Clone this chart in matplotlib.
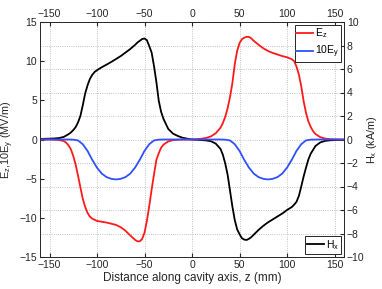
import matplotlib
matplotlib.use("Agg")
import matplotlib.pyplot as plt

plt.rcParams['font.family'] = ['Liberation Sans', 'DejaVu Sans']
plt.rcParams['mathtext.default'] = 'regular'

# ---- data ----
ez_z = [-160, -150, -145, -140, -135, -132.5, -130, -127.5, -125, -122.5, -120,
        -117.5, -115, -112.5, -110, -107.5, -105, -100, -95, -90, -85, -80,
        -75, -70, -65, -60, -57.5, -55, -52.5, -50, -47.5, -45, -42.5, -40,
        -37.5, -35, -32.5, -30, -25, -20, -15, -10, 0, 10, 15, 20, 25, 30,
        32.5, 35, 37.5, 40, 42.5, 45, 47.5, 50, 52.5, 55, 57.5, 60, 62.5, 65,
        70, 75, 80, 85, 90, 95, 100, 105, 107.5, 110, 112.5, 115, 117.5, 120,
        122.5, 125, 127.5, 130, 135, 140, 145, 150, 160]
ez = [0.0, 0.0, -0.02, -0.06, -0.2, -0.4, -0.75, -1.25, -2.1, -3.2, -4.6,
      -6.1, -7.55, -8.6, -9.35, -9.85, -10.1, -10.4, -10.5, -10.6, -10.75,
      -10.9, -11.2, -11.65, -12.25, -12.8, -13.0, -13.0, -12.7, -11.9, -10.4,
      -8.5, -6.4, -4.45, -2.6, -1.75, -1.05, -0.65, -0.25, -0.08, -0.03, 0.0,
      0.0, 0.1, 0.2, 0.4, 0.8, 1.5, 2.1, 2.9, 4.0, 5.4, 7.2, 9.6, 11.3, 12.3,
      12.8, 13.0, 13.1, 13.1, 12.9, 12.6, 12.1, 11.65, 11.3, 11.05, 10.85,
      10.65, 10.5, 10.25, 10.0, 9.3, 8.3, 6.8, 4.9, 3.4, 2.3, 1.6, 1.05, 0.7,
      0.3, 0.12, 0.05, 0.02, 0.0]

ey_z = [-160, -155, -150, -145, -140, -135, -130, -125, -120, -115, -110, -105,
        -100, -95, -90, -85, -80, -75, -70, -65, -60, -55, -50, -45, -40, -35,
        -30, -25, -20, -15, -10, -5, 0, 5, 10, 15, 20, 25, 30, 35, 40, 45, 50,
        55, 60, 65, 70, 75, 80, 85, 90, 95, 100, 105, 110, 115, 120, 125, 130,
        135, 140, 145, 150, 155, 160]
ey10 = [0.0, 0.0, 0.0, 0.0, 0.0, 0.0, 0.0, -0.02, -0.12, -0.6, -1.45, -2.6,
        -3.6, -4.35, -4.8, -5.02, -5.1, -5.02, -4.8, -4.35, -3.6, -2.6, -1.45,
        -0.6, -0.12, -0.02, 0.0, 0.0, 0.0, 0.0, 0.0, 0.0, 0.0, 0.0, 0.0, 0.0,
        0.0, 0.0, 0.0, -0.02, -0.12, -0.6, -1.45, -2.6, -3.6, -4.35, -4.8,
        -5.02, -5.1, -5.02, -4.8, -4.35, -3.6, -2.6, -1.45, -0.6, -0.12, -0.02,
        0.0, 0.0, 0.0, 0.0, 0.0, 0.0, 0.0]

hx_z = [-160, -150, -145, -140, -135, -130, -127.5, -125, -122.5, -120, -117.5,
        -115, -112.5, -110, -107.5, -105, -102.5, -100, -95, -90, -85, -80,
        -75, -70, -65, -60, -57.5, -55, -52.5, -50, -47.5, -45, -42.5, -40,
        -37.5, -35, -32.5, -30, -25, -20, -15, -10, -5, 0, 5, 10, 15, 20, 25,
        30, 32.5, 35, 37.5, 40, 42.5, 45, 47.5, 50, 52.5, 55, 57.5, 60, 62.5,
        65, 70, 75, 80, 85, 90, 95, 100, 105, 107.5, 110, 112.5, 115, 117.5,
        120, 122.5, 125, 130, 135, 140, 145, 150, 160]
hx = [0.05, 0.07, 0.09, 0.12, 0.22, 0.45, 0.6, 0.8, 1.05, 1.45, 2.0, 2.9, 3.9,
      4.6, 5.15, 5.5, 5.75, 5.9, 6.15, 6.37, 6.6, 6.85, 7.1, 7.4, 7.7, 8.05,
      8.25, 8.4, 8.55, 8.6, 8.45, 7.95, 7.4, 6.25, 4.9, 3.3, 2.35, 1.75, 0.9,
      0.5, 0.3, 0.15, 0.07, 0.0, -0.02, -0.05, -0.08, -0.15, -0.35, -0.8,
      -1.3, -2.05, -3.0, -4.35, -5.7, -6.85, -7.65, -8.05, -8.4, -8.52, -8.55,
      -8.45, -8.3, -8.1, -7.7, -7.35, -7.05, -6.8, -6.55, -6.3, -6.0, -5.75,
      -5.55, -5.3, -4.8, -4.0, -3.15, -2.4, -1.7, -1.2, -0.55, -0.25, -0.12,
      -0.07, -0.05, -0.03]

x_ticks = [-150, -100, -50, 0, 50, 100, 150]
left_ticks = [-15, -10, -5, 0, 5, 10, 15]
right_ticks = [-10, -8, -6, -4, -2, 0, 2, 4, 6, 8, 10]

# ---- figure ----
W, H = 382, 289
fig = plt.figure(figsize=(W / 100, H / 100), dpi=100)
ax = fig.add_axes([40 / W, 1 - 257 / H, 304 / W, 235 / H])
ax2 = ax.twinx()
ax.set_zorder(ax2.get_zorder() + 1)
ax.patch.set_visible(False)

txt = '#262626'
red = '#ff1a1a'
blue = '#3050ff'

l_h, = ax2.plot(hx_z, hx, color='black', lw=1.3, label='H$_x$')
l_ez, = ax.plot(ez_z, ez, color=red, lw=1.3, label='E$_z$')
l_ey, = ax.plot(ey_z, ey10, color=blue, lw=1.3, label='10E$_y$')

ax.set_xlim(-160, 160)
ax.set_ylim(-15, 15)
ax2.set_ylim(-10, 10)
ax.set_xticks(x_ticks)
ax.set_yticks(left_ticks)
ax2.set_yticks(right_ticks)

ax.tick_params(axis='x', direction='in', length=3, labelsize=7.5, colors=txt,
               top=True, labeltop=True, pad=2.5)
ax.tick_params(axis='y', direction='in', length=3, labelsize=7.5, colors=txt,
               right=False, pad=2)
ax2.tick_params(axis='y', direction='in', length=3, labelsize=7.5, colors=txt, pad=2)

# grid from the right axes (below the curves)
ax2.xaxis.set_visible(True)
ax2.tick_params(axis='x', bottom=False, top=False, labelbottom=False, labeltop=False)
ax2.grid(True, linestyle=':', color='#b0b0b0', linewidth=0.6)
ax.grid(False)

for a in (ax, ax2):
    for s in a.spines.values():
        s.set_color(txt)
        s.set_linewidth(0.6)

ax.set_xlabel('Distance along cavity axis, z (mm)', fontsize=8.5, color=txt, labelpad=1)
ax.set_ylabel('E$_z$,10E$_y$ (MV/m)', fontsize=7.8, color=txt)
ax.yaxis.set_label_coords(-0.078, 0.5)
ax2.set_ylabel('H$_x$ (kA/m)', fontsize=7.8, color=txt)
ax2.yaxis.set_label_coords(1.069, 0.5)

leg1 = ax.legend(handles=[l_ez, l_ey], loc='upper right',
                 bbox_to_anchor=(0.99, 0.987), fontsize=7.5, fancybox=False,
                 framealpha=1, edgecolor=txt, handlelength=1.6,
                 handletextpad=0.2, borderpad=0.15, labelspacing=0.35,
                 borderaxespad=0)
leg1.get_frame().set_linewidth(0.7)
ax.add_artist(leg1)
leg2 = ax.legend(handles=[l_h], loc='lower right',
                 bbox_to_anchor=(0.99, 0.0128), fontsize=7.5, fancybox=False,
                 framealpha=1, edgecolor=txt, handlelength=1.6,
                 handletextpad=0.2, borderpad=0.2, borderaxespad=0)
leg2.get_frame().set_linewidth(0.7)

fig.savefig('out.png', dpi=100)
